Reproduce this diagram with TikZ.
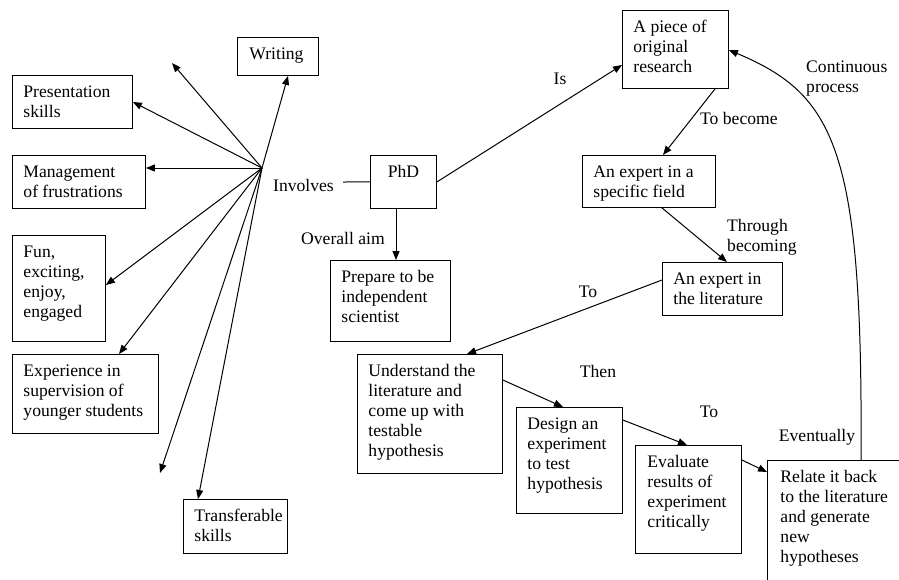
\documentclass[tikz,border=0pt]{standalone}
\usepackage{fontspec}
\setmainfont{Liberation Serif}
\usetikzlibrary{arrows.meta,calc}
\newcommand{\mybox}[7]{\node[boxst, minimum width=#4pt, minimum height=#5pt] (#1) at (#2,#3) {\parbox[c][#5pt][t]{#4pt}{#6\vspace*{8pt}\strut #7}};}
\newcommand{\lft}[1][11pt]{\raggedright\leftskip=#1\relax}
\begin{document}
\begin{tikzpicture}[x=1pt,y=-1pt, font=\fontsize{17.6}{20}\selectfont,
  boxst/.style={draw, line width=0.9pt, inner sep=0pt, anchor=north west},
  arr/.style={-{Triangle[length=9pt,width=7pt]}, line width=1pt},
  lbl/.style={inner sep=0pt}]
\useasboundingbox (0,0) rectangle (899,579);
\clip (0,0) rectangle (899,579);
% boxes
\mybox{writing}{237}{37}{81}{38}{\lft[12pt]}{Writing}
\mybox{pres}{12}{75}{120}{53}{\lft}{Presentation\\skills}
\mybox{mgmt}{12}{155}{133}{53}{\lft}{Management\\of frustrations}
\mybox{fun}{12}{235}{93}{106}{\lft}{Fun,\\exciting,\\enjoy,\\engaged}
\mybox{exp}{12}{354}{146}{79}{\lft}{Experience in\\supervision of\\younger students}
\mybox{trans}{183}{499}{104}{54}{\lft}{Transferable\\skills}
\mybox{phd}{370}{155}{66}{53}{\centering}{PhD}
\mybox{prep}{330}{260}{120}{81}{\lft}{Prepare to be\\independent\\scientist}
\mybox{piece}{622}{10}{106}{78}{\lft}{A piece of\\original\\research}
\mybox{field}{582}{155}{133}{52}{\lft}{An expert in a\\specific field}
\mybox{lit}{662}{262}{120}{53}{\lft}{An expert in\\the literature}
\mybox{und}{357}{354}{145}{119}{\lft}{Understand the\\literature and\\come up with\\testable\\hypothesis}
\mybox{design}{516}{407}{106}{106}{\lft}{Design an\\experiment\\to test\\hypothesis}
\mybox{eval}{635}{445}{106}{108}{\lft[12pt]}{Evaluate\\results of\\experiment\\critically}
\mybox{relate}{767}{460}{170}{160}{\lft[13pt]}{Relate it back\\to the literature\\and generate\\new\\hypotheses}
% coordinates
\coordinate (hub) at (262,168);
\coordinate (free1) at (172,63);
\coordinate (free2) at (160,473);
\coordinate (inv) at (343,182);
% left fan
\draw[arr] (hub) -- ($(writing.south west)+(51,0)$);
\draw[arr] (hub) -- (free1);
\draw[arr] (hub) -- ($(pres.north east)+(0,27)$);
\draw[arr] (hub) -- ($(mgmt.north east)+(0,13)$);
\draw[arr] (hub) -- ($(fun.north east)+(0,50)$);
\draw[arr] (hub) -- ($(exp.north west)+(107,0)$);
\draw[arr] (hub) -- (free2);
\draw[arr] (hub) -- ($(trans.north west)+(15,0)$);
% PhD
\draw[line width=1pt] (phd.west) -- (inv);
\node[lbl, anchor=east] (involves) at (334,185) {Involves};
\draw[arr] ($(phd.south west)+(26,0)$) -- ($(prep.north west)+(66,0)$);
\node[lbl] (aim) at (343,238) {Overall aim};
\draw[arr] (phd.east) -- ($(piece.north west)+(0,55)$);
\node[lbl] (is) at (560,79) {Is};
% right chain
\draw[arr] ($(piece.south west)+(93,0)$) -- ($(field.north west)+(81,0)$);
\node[lbl, anchor=west] (tobecome) at (700,118) {To become};
\draw[arr] ($(field.south west)+(80,0)$) -- ($(lit.north west)+(65,0)$);
\node[lbl, anchor=west, align=left] (through) at (727,237) {Through\\becoming};
\draw[arr] ($(lit.north west)+(0,18)$) -- ($(und.north west)+(110,0)$);
\node[lbl] (to1) at (588,292) {To};
\draw[arr] ($(und.north east)+(0,26)$) -- ($(design.north west)+(47,0)$);
\node[lbl] (then) at (598,371) {Then};
\draw[arr] ($(design.north east)+(0,13)$) -- ($(eval.north west)+(52,0)$);
\node[lbl] (to2) at (709,412) {To};
\draw[arr] ($(eval.north east)+(0,15)$) -- ($(relate.north west)+(0,12)$);
\node[lbl] (eventually) at (817,437) {Eventually};
\draw[arr] ($(relate.north west)+(94,0)$) .. controls ($(relate.north west)+(96,-310)$) and ($(piece.north east)+(107,85)$) .. ($(piece.north east)+(0,40)$);
\node[lbl, anchor=west, align=left] (cont) at (806,79) {Continuous\\process};
\end{tikzpicture}
\end{document}
